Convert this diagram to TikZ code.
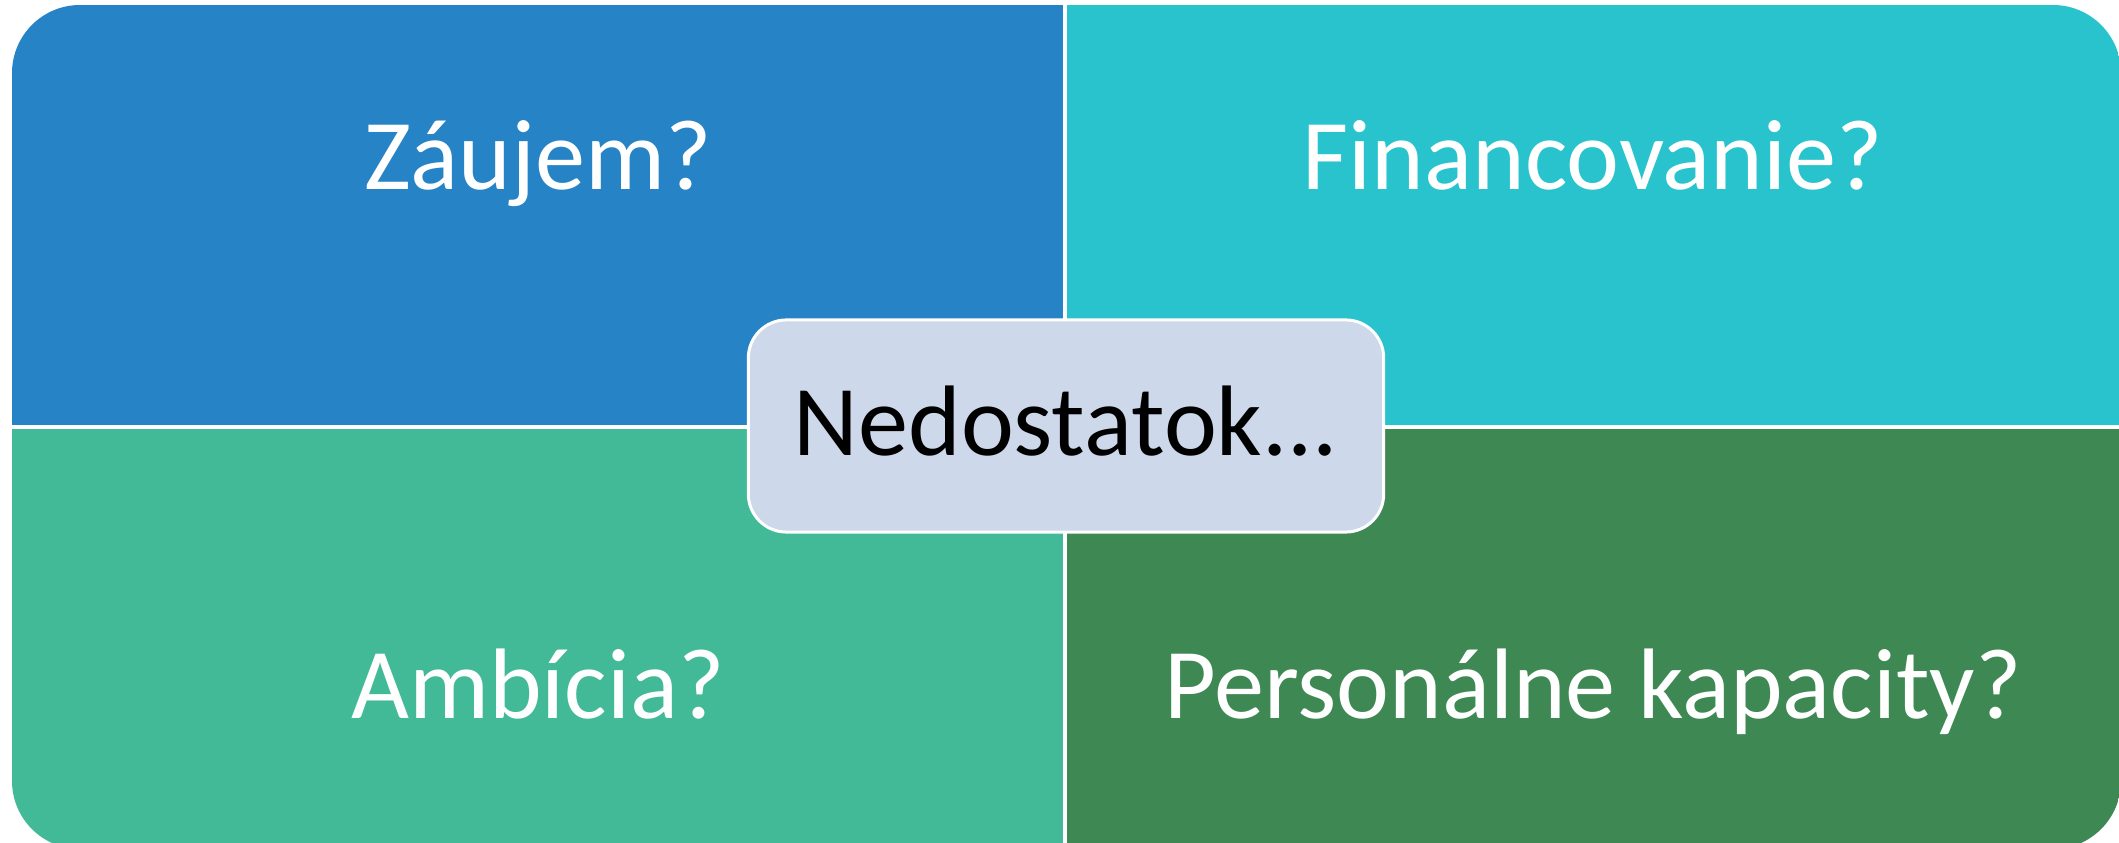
\documentclass[tikz,border=0pt]{standalone}
\usepackage{fontspec}
\setmainfont{Carlito}
\usepackage{tikz}
\definecolor{zaujem}{HTML}{2683C6}
\definecolor{financ}{HTML}{28C3CC}
\definecolor{ambicia}{HTML}{42BA97}
\definecolor{kapacity}{HTML}{3E8853}
\definecolor{nedost}{HTML}{CDD8EA}
\tikzset{
  otazka/.style={anchor=base, text=white, inner sep=0pt, font=\fontsize{28.5}{34}\selectfont},
  stred/.style={draw=white, line width=0.85pt, fill=nedost, rounded corners=0.38cm, minimum width=6.35cm, minimum height=2.12cm, text height=0.58cm, text depth=0pt, font=\fontsize{28.5}{34}\selectfont},
  deliaca/.style={white, line width=1.1pt}
}
\begin{document}
\begin{tikzpicture}[x=0.01cm,y=-0.01cm]
\useasboundingbox (0,0) rectangle (2119,843);
\begin{scope}
\clip[rounded corners=0.68cm] (12,5) rectangle (2121,849);
\fill[zaujem] (12,5) rectangle (1065,427);
\fill[financ] (1065,5) rectangle (2121,427);
\fill[ambicia] (12,427) rectangle (1065,849);
\fill[kapacity] (1065,427) rectangle (2121,849);
\draw[deliaca] (1065,5) -- (1065,849);
\draw[deliaca] (12,427) -- (2121,427);
\end{scope}
\node[otazka] (zaujem) at (538,190) {Záujem?};
\node[otazka] (financovanie) at (1593,190) {Financovanie?};
\node[otazka] (ambicia) at (538,718) {Ambícia?};
\node[otazka] (kapacity) at (1593,718) {Personálne kapacity?};
\node[stred] (nedostatok) at (1066,426) {Nedostatok...};
\end{tikzpicture}
\end{document}
